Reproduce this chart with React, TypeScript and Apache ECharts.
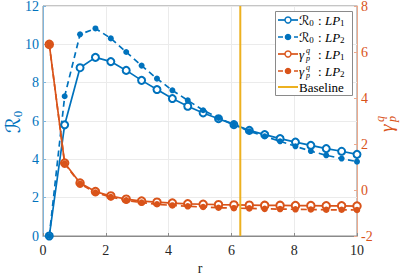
import React, { useEffect, useRef } from 'react';
import * as echarts from 'echarts';

const rValues = [0.2, 0.69, 1.18, 1.67, 2.16, 2.65, 3.14, 3.63, 4.12, 4.61, 5.1, 5.59, 6.08, 6.57, 7.06, 7.55, 8.04, 8.53, 9.02, 9.51, 10];
const r0LP1 = [0, 5.8, 8.78, 9.32, 9.1, 8.64, 8.12, 7.64, 7.17, 6.77, 6.42, 6.12, 5.81, 5.51, 5.29, 5.08, 4.9, 4.73, 4.56, 4.42, 4.26];
const r0LP2 = [0, 7.29, 10.52, 10.83, 10.31, 9.6, 8.89, 8.21, 7.6, 7.08, 6.56, 6.16, 5.81, 5.47, 5.2, 4.94, 4.68, 4.43, 4.21, 4.04, 3.88];
const gammaLP1 = [6.33, 1.17, 0.3, -0.07, -0.26, -0.4, -0.48, -0.53, -0.57, -0.6, -0.62, -0.64, -0.65, -0.66, -0.67, -0.67, -0.68, -0.68, -0.69, -0.69, -0.7];
const gammaLP2 = [6.33, 1.15, 0.27, -0.11, -0.31, -0.45, -0.55, -0.62, -0.67, -0.71, -0.74, -0.77, -0.79, -0.8, -0.82, -0.83, -0.84, -0.85, -0.86, -0.86, -0.87];
const baselineR = 2 * Math.PI;
const baselineSpan = [0, 12];
const xTickLabels = [0, 2, 4, 6, 8, 10];
const leftTickLabels = [0, 2, 4, 6, 8, 10, 12];
const rightTickLabels = [-2, 0, 2, 4, 6, 8];

const BLUE = '#0072BD';
const ORANGE = '#D95319';
const YELLOW = '#EDB120';
const SERIF = 'serif';
const SYM = 'DejaVu Sans';

const zip = (xs: number[], ys: number[]) => xs.map((x, i) => [x, ys[i]]);

export default function App() {
  const ref = useRef<HTMLDivElement>(null);
  useEffect(() => {
    if (!ref.current) return;
    const chart = echarts.init(ref.current, undefined, { renderer: 'svg' });

    chart.setOption({
      animation: false,
      grid: { left: 43, right: 46, top: 6, bottom: 39, show: true, borderColor: '#8a8a8a', borderWidth: 1 },
      xAxis: {
        type: 'value', min: 0, max: 10, interval: 2,
        axisLine: { lineStyle: { color: '#8a8a8a' } },
        axisTick: { inside: true, length: 3, lineStyle: { color: '#8a8a8a' } },
        axisLabel: { show: false },
        splitLine: { show: true, lineStyle: { color: '#ebebeb' } },
      },
      yAxis: [
        {
          type: 'value', min: 0, max: 12, interval: 2, position: 'left',
          axisLine: { show: true, lineStyle: { color: '#7fb5dc' } },
          axisTick: { show: true, inside: true, length: 3, lineStyle: { color: '#7fb5dc' } },
          axisLabel: { show: false },
          splitLine: { show: true, lineStyle: { color: '#ebebeb' } },
        },
        {
          type: 'value', min: -2, max: 8, interval: 2, position: 'right',
          axisLine: { show: true, lineStyle: { color: '#eca98c' } },
          axisTick: { show: true, inside: true, length: 3, lineStyle: { color: '#eca98c' } },
          axisLabel: { show: false },
          splitLine: { show: false },
        },
      ],
      series: [
        {
          name: 'R0 LP1', type: 'line', yAxisIndex: 0, data: zip(rValues, r0LP1),
          symbol: 'emptyCircle', symbolSize: 7, color: BLUE,
          lineStyle: { width: 1.7, color: BLUE }, itemStyle: { color: BLUE, borderWidth: 1.5 },
        },
        {
          name: 'R0 LP2', type: 'line', yAxisIndex: 0, data: zip(rValues, r0LP2),
          symbol: 'circle', symbolSize: 6, color: BLUE,
          lineStyle: { width: 1.7, color: BLUE, type: [6, 4] }, itemStyle: { color: BLUE },
        },
        {
          name: 'gamma LP1', type: 'line', yAxisIndex: 1, data: zip(rValues, gammaLP1),
          symbol: 'emptyCircle', symbolSize: 7.5, color: ORANGE,
          lineStyle: { width: 1.7, color: ORANGE }, itemStyle: { color: ORANGE, borderWidth: 1.6 },
        },
        {
          name: 'gamma LP2', type: 'line', yAxisIndex: 1, data: zip(rValues, gammaLP2),
          symbol: 'circle', symbolSize: 6.5, color: ORANGE,
          lineStyle: { width: 1.7, color: ORANGE, type: [6, 4] }, itemStyle: { color: ORANGE },
        },
        {
          name: 'Baseline', type: 'line', yAxisIndex: 0,
          data: baselineSpan.map((v) => [baselineR, v]),
          symbol: 'none', color: YELLOW, lineStyle: { width: 2, color: YELLOW },
        },
      ],
    });

    // tick labels placed through the chart's own scales
    const x0 = chart.convertToPixel({ xAxisIndex: 0 }, 0) as number;
    const x1 = chart.convertToPixel({ xAxisIndex: 0 }, 10) as number;
    const yBottom = chart.convertToPixel({ yAxisIndex: 0 }, 0) as number;
    const yTop = chart.convertToPixel({ yAxisIndex: 0 }, 12) as number;
    const tickTexts: any[] = [];
    xTickLabels.forEach((v) => {
      tickTexts.push({
        type: 'text', x: chart.convertToPixel({ xAxisIndex: 0 }, v) as number, y: yBottom + 14,
        style: { text: String(v), fontFamily: SERIF, fontSize: 14, fill: '#262626', align: 'center', verticalAlign: 'middle' },
      });
    });
    leftTickLabels.forEach((v) => {
      tickTexts.push({
        type: 'text', x: x0 - 4, y: chart.convertToPixel({ yAxisIndex: 0 }, v) as number,
        style: { text: String(v), fontFamily: SERIF, fontSize: 14, fill: BLUE, align: 'right', verticalAlign: 'middle' },
      });
    });
    rightTickLabels.forEach((v) => {
      tickTexts.push({
        type: 'text', x: x1 + 4, y: chart.convertToPixel({ yAxisIndex: 1 }, v) as number,
        style: { text: String(v), fontFamily: SERIF, fontSize: 14, fill: ORANGE, align: 'left', verticalAlign: 'middle' },
      });
    });
    tickTexts.push({
      type: 'text', x: (x0 + x1) / 2, y: yBottom + 32,
      style: { text: 'r', fontFamily: SERIF, fontSize: 14, fill: '#262626', align: 'center', verticalAlign: 'middle' },
    });

    const legendRows = [20, 37, 54, 71, 87];
    const legendItems: any[] = [
      { type: 'rect', shape: { x: 275.5, y: 11.5, width: 77, height: 84 }, style: { fill: '#fff', stroke: '#8a8a8a', lineWidth: 1 }, z: 100 },
    ];
    const entries = [
      { color: BLUE, dashed: false, filled: false, kind: 'R', sub: '1' },
      { color: BLUE, dashed: true, filled: true, kind: 'R', sub: '2' },
      { color: ORANGE, dashed: false, filled: false, kind: 'G', sub: '1' },
      { color: ORANGE, dashed: true, filled: true, kind: 'G', sub: '2' },
    ];
    entries.forEach((e, i) => {
      const y = legendRows[i];
      legendItems.push({
        type: 'line', z: 101,
        shape: { x1: 278, y1: y, x2: 298, y2: y },
        style: { stroke: e.color, lineWidth: 1.7, lineDash: e.dashed ? [5, 3] : null },
      });
      legendItems.push({
        type: 'circle', z: 102,
        shape: { cx: 288, cy: y, r: e.filled ? 2.6 : 3 },
        style: { fill: e.filled ? e.color : '#fff', stroke: e.color, lineWidth: 1.4 },
      });
      if (e.kind === 'R') {
        legendItems.push({
          type: 'text', z: 102, x: 299, y,
          style: {
            text: '{r|ℛ}{s|0}', verticalAlign: 'middle',
            rich: { r: { fontFamily: SYM, fontSize: 13, fill: '#000' }, s: { fontFamily: SERIF, fontSize: 9, fill: '#000', padding: [6, 0, 0, 0] } },
          },
        });
      } else {
        legendItems.push({ type: 'text', z: 102, x: 299, y, style: { text: 'γ', fontFamily: SERIF, fontStyle: 'italic', fontSize: 13, fill: '#000', verticalAlign: 'middle' } });
        legendItems.push({ type: 'text', z: 102, x: 306, y: y - 4, style: { text: 'q', fontFamily: SERIF, fontStyle: 'italic', fontSize: 8, fill: '#000', verticalAlign: 'middle' } });
        legendItems.push({ type: 'text', z: 102, x: 306, y: y + 4, style: { text: 'p', fontFamily: SERIF, fontStyle: 'italic', fontSize: 8, fill: '#000', verticalAlign: 'middle' } });
      }
      legendItems.push({
        type: 'text', z: 102, x: 318, y,
        style: {
          text: '{n|:} {i|LP}{s|' + e.sub + '}', verticalAlign: 'middle',
          rich: {
            n: { fontFamily: SERIF, fontSize: 13, fill: '#000' },
            i: { fontFamily: SERIF, fontStyle: 'italic', fontSize: 13, fill: '#000' },
            s: { fontFamily: SERIF, fontSize: 9, fill: '#000', padding: [6, 0, 0, 0] },
          },
        },
      });
    });
    legendItems.push({ type: 'line', z: 101, shape: { x1: 278, y1: legendRows[4], x2: 298, y2: legendRows[4] }, style: { stroke: YELLOW, lineWidth: 2 } });
    legendItems.push({ type: 'text', z: 102, x: 299, y: legendRows[4], style: { text: 'Baseline', fontFamily: SERIF, fontSize: 13, fill: '#000', verticalAlign: 'middle' } });

    chart.setOption({
      graphic: [
        {
          type: 'text', x: 13, y: (yTop + yBottom) / 2 + 1, rotation: Math.PI / 2,
          style: {
            text: '{r|ℛ}{s|0}', align: 'center', verticalAlign: 'middle',
            rich: { r: { fontFamily: SYM, fontSize: 20, fill: BLUE }, s: { fontFamily: SERIF, fontSize: 13, fill: BLUE, padding: [9, 0, 0, 0] } },
          },
        },
        {
          type: 'group', x: 386, y: (yTop + yBottom) / 2 + 2, rotation: Math.PI / 2,
          children: [
            { type: 'text', x: -9, y: 0, style: { text: 'γ', fontFamily: SERIF, fontStyle: 'italic', fontSize: 19, fill: ORANGE, verticalAlign: 'middle' } },
            { type: 'text', x: 1, y: -6, style: { text: 'q', fontFamily: SERIF, fontStyle: 'italic', fontSize: 12, fill: ORANGE, verticalAlign: 'middle' } },
            { type: 'text', x: 1, y: 6, style: { text: 'p', fontFamily: SERIF, fontStyle: 'italic', fontSize: 12, fill: ORANGE, verticalAlign: 'middle' } },
          ],
        },
        ...tickTexts,
        ...legendItems,
      ],
    });
    return () => chart.dispose();
  }, []);
  return <div ref={ref} style={{ width: 403, height: 275, position: 'absolute', left: 0, top: 0 }} />;
}
